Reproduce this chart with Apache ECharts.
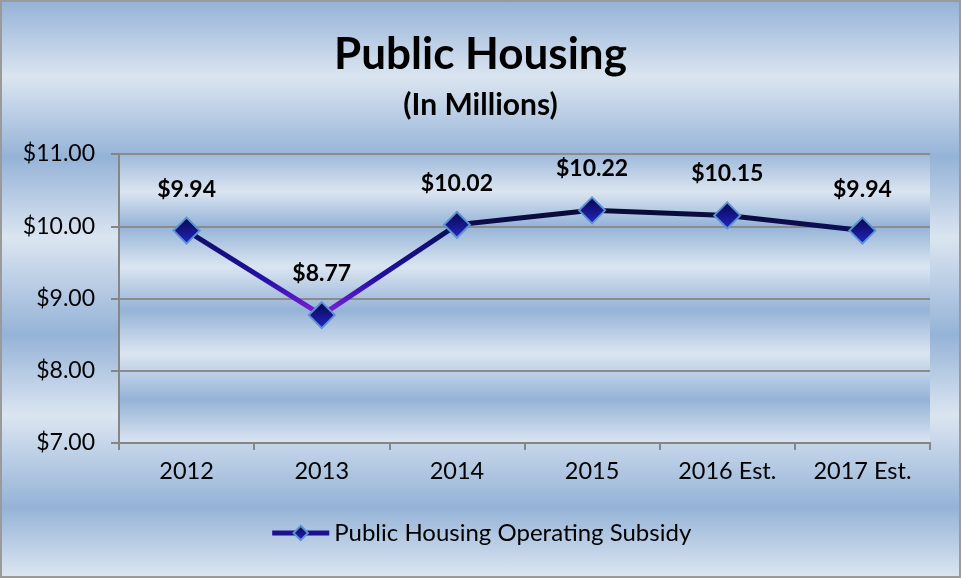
<!DOCTYPE html>
<html>
<head>
<meta charset="utf-8">
<script src="https://cdn.jsdelivr.net/npm/echarts@6/dist/echarts.min.js"></script>
<style>
  html, body { margin: 0; padding: 0; }
  #chart {
    width: 961px;
    height: 578px;
    box-sizing: border-box;
    border: 2px solid #9a9a9a;
    background: linear-gradient(to bottom,
      #95b3d7 0%, #dbe5f1 13%, #95b3d7 27%, #dbe5f1 41%,
      #95b3d7 58%, #dbe5f1 72%, #95b3d7 88%, #dbe5f1 100%);
  }
</style>
</head>
<body>
<div id="chart"></div>
<script>
// data
const years = ['2012', '2013', '2014', '2015', '2016 Est.', '2017 Est.']
const subsidy = [9.94, 8.77, 10.02, 10.22, 10.15, 9.94]
const yTicks = { min: 7, max: 11, interval: 1 }

const chart = echarts.init(document.getElementById('chart'))
const font = 'Lato, "Open Sans", sans-serif'

const plotFill = new echarts.graphic.LinearGradient(0, 0, 0, 1, [
  { offset: 0, color: '#9db9da' },
  { offset: 0.13, color: '#dbe5f1' },
  { offset: 0.25, color: '#95b3d7' },
  { offset: 0.39, color: '#dbe5f1' },
  { offset: 0.54, color: '#95b3d7' },
  { offset: 0.69, color: '#dbe5f1' },
  { offset: 0.85, color: '#95b3d7' },
  { offset: 1, color: '#dbe5f1' }
])

const option = {
  backgroundColor: 'transparent',
  title: [
    {
      text: 'Public Housing',
      left: 'center',
      top: 26,
      textStyle: { fontFamily: font, fontWeight: 'bold', fontSize: 44, color: '#000' }
    },
    {
      text: '(In Millions)',
      left: 'center',
      top: 83,
      textStyle: { fontFamily: font, fontWeight: 'bold', fontSize: 30, color: '#000' }
    }
  ],
  grid: {
    left: 117,
    right: 29,
    top: 152,
    bottom: 133,
    show: true,
    borderWidth: 0,
    backgroundColor: plotFill
  },
  legend: {
    bottom: 26,
    left: 'center',
    itemWidth: 57,
    itemHeight: 18,
    itemGap: 4,
    lineStyle: { width: 5, color: '#1c108c' },
    textStyle: { fontFamily: font, fontSize: 24, color: '#000' },
    data: ['Public Housing Operating Subsidy']
  },
  xAxis: {
    type: 'category',
    data: years,
    boundaryGap: true,
    axisLine: { lineStyle: { color: '#868686', width: 2 } },
    axisTick: { show: true, length: 7, lineStyle: { color: '#868686', width: 2 } },
    axisLabel: { fontFamily: font, fontSize: 23.5, color: '#000', margin: 16 }
  },
  yAxis: {
    type: 'value',
    min: yTicks.min,
    max: yTicks.max,
    interval: yTicks.interval,
    axisLine: { show: true, lineStyle: { color: '#868686', width: 2 } },
    axisTick: { show: true, length: 8, lineStyle: { color: '#868686', width: 2 } },
    axisLabel: {
      fontFamily: font, fontSize: 23, color: '#000', margin: 24,
      formatter: v => '$' + v.toFixed(2)
    },
    splitLine: { lineStyle: { color: '#8c8c8c', width: 2 } }
  },
  series: [
    {
      name: 'Public Housing Operating Subsidy',
      type: 'line',
      data: subsidy,
      symbol: 'diamond',
      symbolSize: 26,
      lineStyle: {
        width: 5,
        color: new echarts.graphic.LinearGradient(0, 0, 0, 1, [
          { offset: 0, color: '#0a0a30' },
          { offset: 0.25, color: '#0e0e66' },
          { offset: 0.65, color: '#2410a8' },
          { offset: 1, color: '#8a22e0' }
        ])
      },
      itemStyle: {
        color: new echarts.graphic.LinearGradient(0, 0, 0, 1, [
          { offset: 0, color: '#05054a' },
          { offset: 1, color: '#2626c8' }
        ]),
        borderColor: '#5f92d2',
        borderWidth: 2
      },
      label: {
        show: true,
        position: 'top',
        distance: 16,
        fontFamily: font,
        fontWeight: 'bold',
        fontSize: 23,
        color: '#000',
        formatter: p => '$' + p.value.toFixed(2)
      }
    }
  ]
}

chart.setOption(option)
</script>
</body>
</html>
